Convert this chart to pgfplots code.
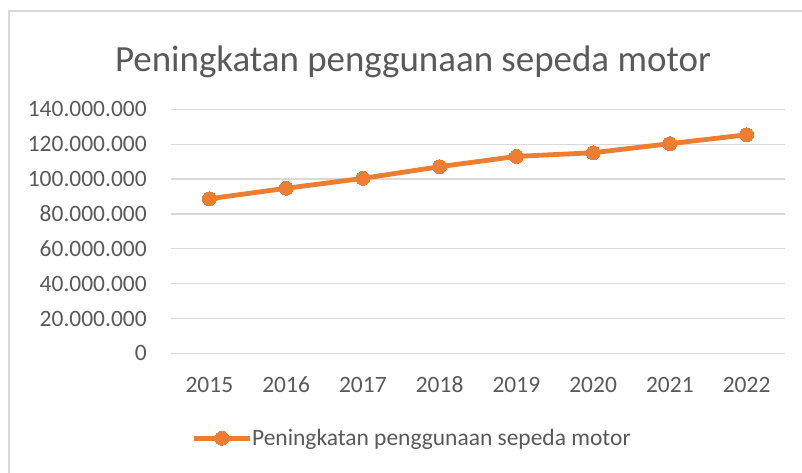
\documentclass[border=0pt]{standalone}
\usepackage{pgfplots}
\pgfplotsset{compat=1.18}
\usepackage{fontspec}
\setmainfont{Carlito}
\definecolor{txt}{HTML}{595959}
\definecolor{gridc}{HTML}{D9D9D9}
\definecolor{org}{HTML}{ED7D31}
\begin{document}
\begin{tikzpicture}
\useasboundingbox (0,0) rectangle (601.5pt,354pt);
\draw[gridc, line width=0.9pt] (6.75pt,-2pt) -- (6.75pt,345.75pt) -- (604pt,345.75pt);
\node[anchor=base, text=txt, inner sep=0pt, font=\fontsize{27.7}{32}\selectfont] at (309.75pt,300pt) {Peningkatan penggunaan sepeda motor};
\begin{axis}[
  at={(128.25pt,89pt)}, anchor=south west,
  scale only axis, width=460.5pt, height=183pt,
  xmin=-0.5, xmax=7.5, ymin=0, ymax=140000000,
  scaled y ticks=false,
  xtick={0,...,7},
  xticklabels={2015,2016,2017,2018,2019,2020,2021,2022},
  ytick={0,20000000,40000000,60000000,80000000,100000000,120000000,140000000},
  yticklabels={0,20.000.000,40.000.000,60.000.000,80.000.000,100.000.000,120.000.000,140.000.000},
  major tick length=0pt,
  axis line style={draw=none},
  ymajorgrids, grid style={gridc, line width=0.9pt},
  tick label style={text=txt, font=\fontsize{17.6}{20}\selectfont, inner sep=0pt},
  yticklabel style={anchor=east, xshift=-18pt},
  xticklabel style={anchor=north, yshift=-17.5pt},
  clip=false,
  legend style={draw=none, fill=none, inner sep=0pt, outer sep=0pt, at={(0.0337,-0.348)}, anchor=west,
    font=\fontsize{17.6}{20}\selectfont, text=txt,
    nodes={inner sep=0pt}, /tikz/every even column/.append style={column sep=3.3pt}},
  legend image code/.code={
    \draw[#1, mark=none] (0pt,0pt) -- (41.7pt,0pt);
    \draw[#1, only marks] plot coordinates {(20.85pt,0pt)};
  },
]
\addplot[org, line width=3.6pt, mark=*, mark size=5.2pt, mark options={fill=org, draw=org, line width=0pt}]
coordinates {
(0,88700000) (1,94700000) (2,100400000) (3,107100000)
(4,113000000) (5,115100000) (6,120300000) (7,125400000)
};
\addlegendentry{Peningkatan penggunaan sepeda motor}
\end{axis}
\end{tikzpicture}
\end{document}
